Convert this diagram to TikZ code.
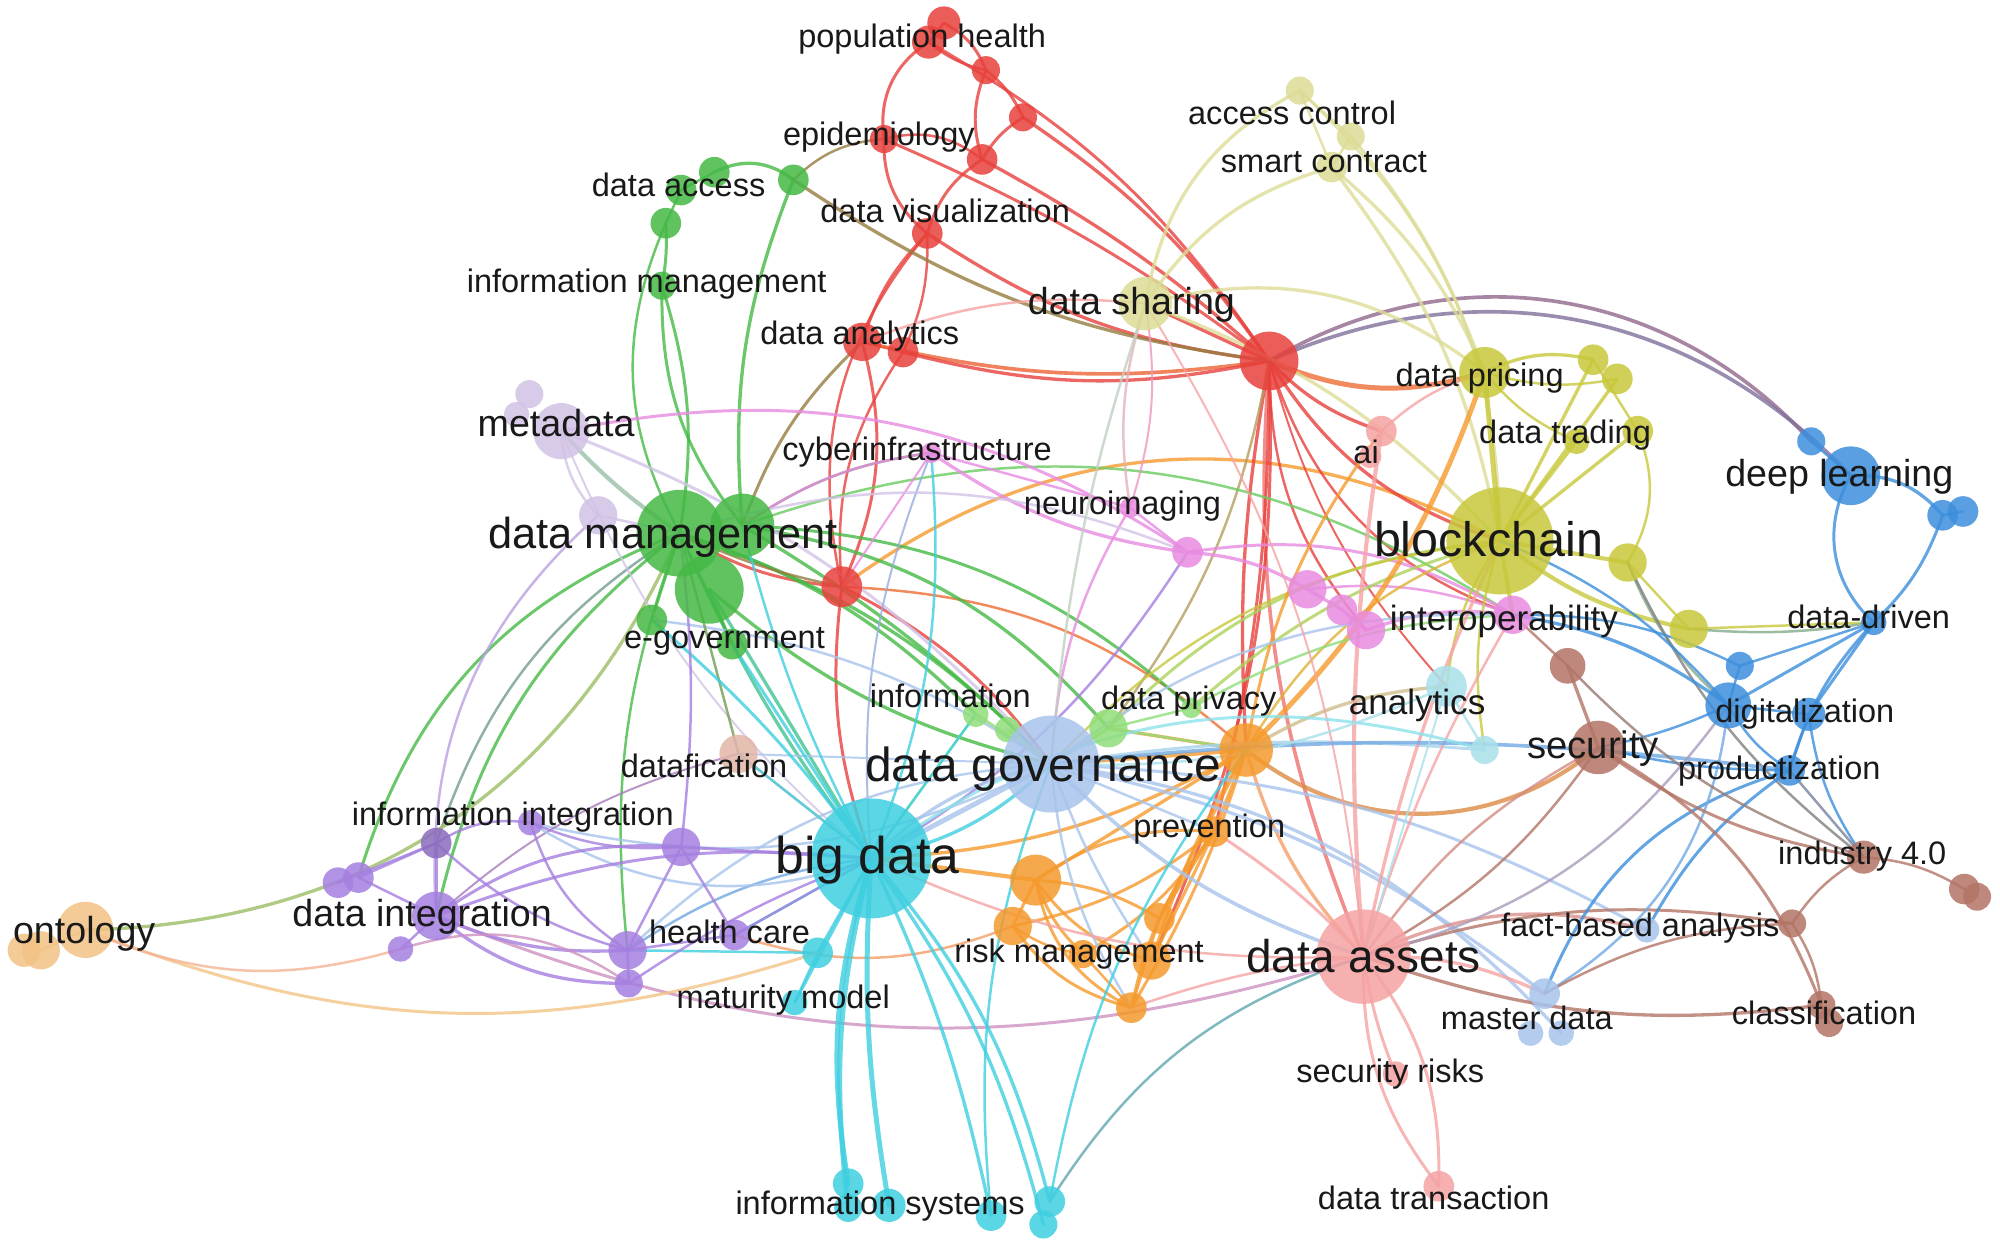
\documentclass[tikz,border=0pt]{standalone}
\usepackage{fontspec}
\setmainfont{Liberation Sans}
\pgfdeclarelayer{bg}
\pgfdeclarelayer{edges}
\pgfsetlayers{bg,edges,main}
\definecolor{cR}{RGB}{232,65,60}
\definecolor{cG}{RGB}{69,185,69}
\definecolor{cY}{RGB}{200,200,60}
\definecolor{cLY}{RGB}{220,220,150}
\definecolor{cB}{RGB}{61,143,220}
\definecolor{cC}{RGB}{63,207,224}
\definecolor{cLB}{RGB}{168,196,236}
\definecolor{cO}{RGB}{245,154,45}
\definecolor{cP}{RGB}{245,163,163}
\definecolor{cPu}{RGB}{165,127,224}
\definecolor{cL}{RGB}{210,195,230}
\definecolor{cM}{RGB}{232,139,224}
\definecolor{cBr}{RGB}{179,117,102}
\definecolor{cLC}{RGB}{169,224,234}
\definecolor{cLG}{RGB}{144,221,122}
\definecolor{cLO}{RGB}{243,195,133}
\definecolor{cDf}{RGB}{227,181,168}
\tikzset{
  kw/.style={circle,inner sep=0pt,draw=none,fill=#1,fill opacity=0.85},
  lab/.style={font=\fontsize{#1pt}{#1pt}\selectfont,text=black!90,inner sep=0pt,
    text height=0.74*#1pt,text depth=0.16*#1pt,anchor=center},
  edge/.style={opacity=0.8,line cap=round}
}
\newcommand\kwn[5]{\node[kw=#2,minimum size=2*#5pt] (#1) at (#3,#4) {};}
\begin{document}
\begin{tikzpicture}[x=1pt,y=-1pt]
\begin{pgfonlayer}{bg}
\fill[white] (0,0) rectangle (1568,975);
\end{pgfonlayer}
\useasboundingbox (0,0) rectangle (1568,975);
% red
\kwn{ph1}{cR}{740}{18}{13}
\kwn{ph2}{cR}{728}{33}{13}
\kwn{r2}{cR}{773}{55}{11}
\kwn{r3}{cR}{802}{92}{11}
\kwn{epi}{cR}{693}{109}{11}
\kwn{r4}{cR}{770}{125}{12}
\kwn{dvis}{cR}{727}{183}{12}
\kwn{dan1}{cR}{676}{268}{15}
\kwn{dan2}{cR}{708}{276}{12}
\kwn{rhub}{cR}{995}{283}{23}
\kwn{r5}{cR}{660}{460}{16}
% green
\kwn{da1}{cG}{560}{135}{12}
\kwn{da2}{cG}{534}{149}{12}
\kwn{da3}{cG}{522}{175}{12}
\kwn{da4}{cG}{622}{141}{12}
\kwn{im}{cG}{519}{224}{11}
\kwn{dm}{cG}{533}{418}{34}
\kwn{dm2}{cG}{582}{412}{25}
\kwn{dm3}{cG}{556}{462}{27}
\kwn{eg1}{cG}{511}{486}{12}
\kwn{eg2}{cG}{574}{505}{12}
% light green
\kwn{inf1}{cLG}{765}{560}{10}
\kwn{inf2}{cLG}{790}{572}{10}
\kwn{dpv}{cLG}{869}{571}{15}
\kwn{dpv2}{cLG}{934}{555}{8}
% lavender
\kwn{md}{cL}{440}{338}{22}
\kwn{md2}{cL}{415}{309}{11}
\kwn{md3}{cL}{405}{325}{10}
\kwn{lv}{cL}{469}{404}{15}
% magenta
\kwn{cyb}{cM}{730}{355}{8}
\kwn{neu}{cM}{886}{398}{8}
\kwn{m1}{cM}{931}{433}{12}
\kwn{m2}{cM}{1025}{462}{15}
\kwn{m3}{cM}{1052}{478}{12}
\kwn{m4}{cM}{1071}{494}{15}
\kwn{interop}{cM}{1186}{482}{15}
% yellow
\kwn{bc}{cY}{1176}{424}{42}
\kwn{dpr}{cY}{1164}{292}{20}
\kwn{y1}{cY}{1249}{282}{12}
\kwn{y2}{cY}{1268}{297}{12}
\kwn{dtr}{cY}{1236}{346}{10}
\kwn{y3}{cY}{1284}{338}{12}
\kwn{y4}{cY}{1276}{441}{15}
\kwn{y5}{cY}{1324}{493}{15}
\kwn{ac}{cLY}{1019}{71}{11}
\kwn{ac2}{cLY}{1059}{107}{11}
\kwn{sc}{cLY}{1044}{131}{12}
\kwn{ds}{cLY}{898}{238}{21}
\kwn{ai}{cP}{1083}{338}{12}
\kwn{ai2}{cP}{1074}{358}{9}
% blue
\kwn{dl1}{cB}{1420}{346}{11}
\kwn{dl}{cB}{1451}{373}{23}
\kwn{dl3}{cB}{1523}{404}{12}
\kwn{dl4}{cB}{1539}{401}{12}
\kwn{ddr}{cB}{1469}{488}{10}
\kwn{dig}{cB}{1355}{553}{18}
\kwn{dig2}{cB}{1364}{522}{11}
\kwn{dig3}{cB}{1418}{560}{13}
\kwn{prod}{cB}{1403}{604}{12}
% brown
\kwn{sec}{cBr}{1253}{586}{21}
\kwn{sec2}{cBr}{1229}{522}{14}
\kwn{ind}{cBr}{1461}{672}{13}
\kwn{ind2}{cBr}{1540}{697}{12}
\kwn{ind3}{cBr}{1550}{703}{11}
\kwn{fb2}{cBr}{1405}{724}{11}
\kwn{cls}{cBr}{1428}{788}{11}
\kwn{cls2}{cBr}{1434}{802}{11}
\kwn{datf}{cDf}{579}{591}{15}
% light cyan
\kwn{an}{cLC}{1134}{538}{16}
\kwn{an2}{cLC}{1164}{588}{11}
% orange
\kwn{ohub}{cO}{977}{588}{21}
\kwn{prev}{cO}{952}{652}{12}
\kwn{o1}{cO}{812}{690}{20}
\kwn{o2}{cO}{794}{726}{15}
\kwn{o3}{cO}{909}{720}{12}
\kwn{o4}{cO}{903}{753}{15}
\kwn{o5}{cO}{887}{790}{12}
\kwn{o6}{cO}{849}{748}{11}
% light blue
\kwn{dg}{cLB}{824}{599}{38}
\kwn{fba}{cLB}{1291}{729}{10}
\kwn{mdat1}{cLB}{1211}{779}{12}
\kwn{mdat2}{cLB}{1224}{810}{10}
\kwn{mdat3}{cLB}{1200}{810}{10}
% pink
\kwn{da}{cP}{1069}{750}{37}
\kwn{sr}{cP}{1094}{842}{10}
\kwn{dt}{cP}{1128}{930}{12}
% cyan
\kwn{bd}{cC}{683}{673}{47}
\kwn{c1}{cC}{641}{747}{12}
\kwn{mm}{cC}{623}{786}{10}
\kwn{is1}{cC}{665}{928}{12}
\kwn{is2}{cC}{665}{947}{11}
\kwn{is3}{cC}{697}{945}{13}
\kwn{is4}{cC}{777}{953}{12}
\kwn{is5}{cC}{823}{942}{12}
\kwn{is6}{cC}{818}{960}{11}
% purple
\kwn{ii1}{cPu!85!black}{342}{661}{12}
\kwn{ii2}{cPu}{416}{645}{10}
\kwn{p1}{cPu}{534}{664}{15}
\kwn{p2}{cPu}{265}{692}{12}
\kwn{p3}{cPu}{281}{688}{12}
\kwn{di}{cPu}{342}{718}{19}
\kwn{p4}{cPu}{314}{744}{10}
\kwn{hc1}{cPu}{492}{745}{15}
\kwn{hc2}{cPu}{493}{771}{11}
\kwn{hc3}{cPu}{576}{733}{12}
% light orange
\kwn{ont}{cLO}{67}{729}{22}
\kwn{ont2}{cLO}{32}{745}{15}
\kwn{ont3}{cLO}{19}{745}{13}

\begin{pgfonlayer}{edges}
\foreach \a/\b/\bnd/\col/\w in {
ph1/ph2/0/cR/1.5, ph2/epi/25/cR/1.8, ph1/r2/-15/cR/1.8, r2/r3/-10/cR/1.8, ph2/r2/10/cR/1.5,
r2/r4/15/cR/1.8, r3/r4/10/cR/1.8, epi/dvis/20/cR/1.8, epi/r4/-20/cR/1.5, r4/dvis/15/cR/1.8,
ph2/rhub/-10/cR/1.8, r3/rhub/-8/cR/2, r4/rhub/-5/cR/2, dvis/rhub/10/cR/2, epi/rhub/-5/cR/1.8,
dvis/dan1/10/cR/1.8, dvis/r5/20/cR/1.5, dvis/dan2/-10/cR/1.5, dan1/dan2/0/cR/1.5,
dan1/rhub/8/cR!60!cO/2.2, dan2/rhub/10/cR/2, dan1/r5/-15/cR/1.8, dan2/r5/15/cR/1.5,
r5/dm/-10/cR/1.8, r5/bd/10/cR/1.8, r5/dg/-10/cR/1.8, r5/ohub/-15/cR!50!cO/1.5, r5/bc/-25/cO/2,
rhub/ds/0/cR/2, rhub/dpr/15/cR!50!cO/3, rhub/ai/10/cR/2, rhub/bc/15/cR/2,
rhub/dl1/-30/cR!50!cB/2.2, rhub/dl/-27/cR!40!cB/2.2, rhub/da/10/cR!50!cP/2.2, rhub/ohub/5/cR/2,
rhub/prev/-5/cR/1.8, rhub/o4/-10/cR/1.8, rhub/m4/15/cR/1.5, rhub/interop/20/cR/1.5,
rhub/dpv/-10/cR!40!cLG/1.5, rhub/an/10/cR/1.2,
da2/da1/0/cG/1.5, da1/da4/-25/cG/2, da2/da3/0/cG/1.5, da3/im/-5/cG/1.8, im/dm/-10/cG/1.8,
im/dm2/15/cG/1.8, da3/dm/20/cG/1.5, da4/dm2/10/cG/2, da4/rhub/10/cG!50!cR/2, da4/epi/-15/cG!50!cR/1.5,
dm/bd/5/cG!50!cC/2, dm/dg/-10/cG/2, dm2/dg/-5/cG/2, dm3/dg/10/cG/2, dm/inf1/-10/cG/2,
dm2/dpv/-15/cG/2, dm2/dpv2/-15/cG/1.8, dm2/interop/-20/cG!50!cLG/1.5, dm/eg1/0/cG/1.5,
dm/eg2/0/cG/1.5, dm3/eg2/0/cG/1.5, dm/di/15/cG/1.8, dm/p3/20/cG/1.8, dm/ii1/15/cG!50!cPu/1.5,
dm/ont/-25/cG!50!cLO/2, dm/hc1/10/cG/1.5, dm3/bd/0/cG!50!cC/2, dm/r5/5/cG!50!cR/1.5,
dm2/cyb/-10/cG!40!gray/1.5, dm2/dan1/-10/cG!50!cR/1.8,
md/dm/5/cG!40!cL/2.5, md/lv/15/cL/1.5, md/dg/-10/cL/1.8, md/m1/-17/cM/1.8, md/bd/10/cL/1.2,
lv/dm/0/cL/1.5, lv/di/20/cL!50!cPu/1.5,
cyb/m1/10/cM/2, cyb/neu/0/cM/1.5, cyb/dm2/10/cM/1.5, cyb/bd/10/cM!50!cC/1.2, cyb/r5/0/cM/1.2,
neu/m1/0/cM/1.5, neu/dg/10/cM/1.5, neu/ds/10/cM!50!cP/1.2, m1/m2/-10/cM/2, m2/m3/0/cM/2,
m3/m4/0/cM/2, m4/interop/-10/cM/2, m1/interop/-15/cM/1.8, m1/bd/-10/cPu/1.5, m1/dm/15/cL/1.5,
m2/interop/-10/cM/1.5,
ds/ac/-20/cLY/2, ds/sc/-15/cLY/2, ds/dpr/-20/cLY/2, ds/bc/-10/cLY/2, ds/dan1/10/cP/1.5,
ds/neu/10/cLY!50!cM/1.5, ds/dg/5/cLY!50!cLB/1.5, ac/ac2/0/cLY/1.5, ac/sc/0/cLY/1.5,
ac2/sc/0/cLY/1.5, sc/dpr/-10/cLY/2, sc/bc/-10/cLY/2, ac2/bc/-15/cLY/2, ac/dpr/-10/cLY/1.5,
dpr/bc/0/cY/3, dpr/y1/-15/cY/2, dpr/y2/10/cY/1.5, dpr/dtr/10/cY/1.5, dpr/ai/10/cP/1.5,
bc/y1/0/cY/2, bc/y2/0/cY/2, bc/dtr/0/cY/2, bc/y3/0/cY/2, y1/y3/0/cY/1.5, y3/y4/-20/cY/1.5,
bc/y4/0/cY/2.5, bc/y5/10/cY/2.5, y4/y5/0/cY/1.5, bc/interop/0/cY/2.5, bc/dpv/15/cY!50!cLG/1.8,
bc/dpv2/10/cY!50!cLG/1.8, bc/an/10/cY/1.5, bc/dg/15/cY/1.5, bc/ohub/15/cY!50!cO/1.5,
bc/an2/10/cY/1.5, y4/dig/10/cY!50!cB/1.5, y4/ind/10/gray/1.5, y5/ddr/0/cY/1.5,
ohub/dpr/10/cO/3, ohub/dg/0/cO/2.5, ohub/bd/-10/cO/2, ohub/sec/30/cO!60!cBr/2.5, ohub/prev/0/cO/2,
ohub/o3/0/cO/1.8, ohub/o4/5/cO/1.8, ohub/o5/-5/cO/1.8, ohub/o1/0/cO/2, ohub/ai/-10/cO/1.8,
ohub/an/-10/cO!50!cLC/2, ohub/da/10/cO!50!cP/2, o1/bd/0/cO/2.5, o1/o2/0/cO/1.8, o1/o4/15/cO/1.8,
o1/o5/20/cO/1.8, o1/prev/-15/cO/1.8, o1/o3/-10/cO/1.8, o1/o6/10/cO/1.8, prev/o2/-10/cO/1.8,
prev/o3/0/cO/1.8, prev/o4/0/cO/1.8, prev/o5/10/cO/1.8, prev/o6/-10/cO/1.8, o2/o5/15/cO/1.8,
o6/o5/0/cO/1.5, o2/o6/10/cO/1.5, o3/o5/0/cO/1.5, o2/hc3/-15/cO!50!cP/1.5, ohub/dpv/0/cO/2,
inf1/dg/0/cLG/2, inf2/dg/0/cLG/2, dpv/dg/0/cLG/2, dpv/dpv2/0/cLG/1.5, dpv/ohub/0/cLG/1.5,
dpv2/interop/-10/cLG/1.5, inf1/bd/0/cLG/1.5,
dg/bd/0/cLB/3, dg/bd/12/cLB/2, dg/bd/-12/cC/2, dg/da/10/cLB/2.2, dg/mdat1/-10/cLB/2, dg/mdat2/-15/cLB/2, dg/fba/-10/cLB/1.8,
dg/eg1/10/cLB/1.5, dg/an2/-5/cLB!50!cLC/1.8, dg/prev/0/cLB/1.5, dg/o4/5/cLB/1.5, dg/o5/10/cLB/1.5,
dg/ii2/-15/cLB/1.5, dg/hc1/15/cLB/1.5, dg/interop/-15/cLB/1.5, dg/datf/0/cLB/1.2,
da/sr/5/cP/1.8, da/dt/15/cP/1.8, da/dt/-15/cP/1.8, da/ai/-5/cP/2.5, da/bc/-5/cP/2,
da/interop/-5/cP/1.5, da/prev/5/cP/1.8, da/mdat1/-10/cP/2, da/fba/-15/cP!60!cBr/2,
da/cls/10/cBr/2, da/fb2/-10/cBr/1.8, da/o5/5/cP/1.5, da/bd/-10/cP/1.5, di/da/15/cP!50!cPu/1.8,
da/ds/10/cP/1.2, da/sec/-10/cP!50!cBr/1.5,
dl/dl1/0/cB/1.5, dl/dl3/-20/cB/2, dl3/dl4/0/cB/1.5, dl/ddr/30/cB/1.8, dl3/ddr/-10/cB/1.8,
ddr/dig/0/cB/1.8, ddr/dig3/0/cB/1.8, ddr/prod/10/cB/1.8, ddr/dig2/0/cB/1.5, ddr/y5/-5/cB!50!cY/1.5,
dig/dig2/0/cB/1.5, dig/dig3/0/cB/1.5, dig/prod/10/cB/1.5, dig3/prod/0/cB/1.5, dig/interop/10/cB/2,
dig2/interop/10/cB/1.5, dig/bc/10/cB/1.5, prod/dg/5/cB!50!cLB/2.2, prod/fba/10/cB/1.8,
prod/mdat1/20/cB/1.8, dig/mdat1/-20/cB!50!cLB/1.5, dig/da/-15/cB!40!cP/1.5, prod/ind/0/cB!50!cBr/1.5,
dig3/ind/10/cB/1.5, prod/sec/-5/cB/1.5, dig/sec/-5/cB/1.5,
sec/sec2/0/cBr/2, sec/ind/10/cBr/1.8, sec/cls/-15/cBr/1.8, sec2/ind/10/cBr!50!gray/1.5,
ind/ind2/-10/cBr/1.5, ind2/ind3/0/cBr/1.5, ind/fb2/10/cBr/1.5, fb2/cls/-10/cBr/1.5,
fb2/mdat1/10/cBr/1.5, sec/da/-10/cBr/1.5, sec2/interop/0/cBr/1.5, cls/cls2/0/cBr/1.5,
datf/bd/0/cDf/1.5, datf/dm/0/cBr!40!cG/1.5, datf/di/10/cBr!30!cPu/1.2,
an/an2/0/cLC/1.5, bd/an2/-20/cC!60!white/1.8, an/dg/-10/cLC/1.5, an/da/0/cLC/1.2,
bd/is1/10/cC/3, bd/is2/8/cC/3, bd/is3/5/cC/3, bd/is4/-5/cC/2, bd/is5/-10/cC/2, bd/is6/-8/cC/2,
bd/mm/0/cC/1.8, bd/c1/0/cC/1.8, bd/eg1/5/cC/1.8, bd/eg2/0/cC/1.8, bd/dm2/-5/cC/1.5,
bd/datf/0/cC/1.5, bd/hc1/10/cC!50!cPu/1.5, bd/hc3/0/cC/1.5, bd/ii2/-20/cLB/1.5, bd/inf1/0/cC/1.5,
bd/cyb/10/cC/1.5, is4/dg/-10/cC/1.5, is5/da/-15/cC!50!gray/1.5, is5/ohub/-10/cC/1.5,
mm/c1/0/cC/1.5, c1/hc1/0/cC/1.5,
ii1/p2/0/cPu/1.5, ii1/p3/0/cPu/1.5, ii1/di/0/cPu/2, ii1/ii2/-15/cPu/1.5, ii1/hc1/10/cPu/1.5,
ii2/hc1/15/cPu/1.5, ii2/p1/10/cPu/1.5, di/p1/-15/cPu/1.8, di/hc1/10/cPu/2, di/hc2/15/cPu/2,
di/p4/0/cPu/1.5, di/bd/-10/cPu/1.8, di/p3/0/cPu/1.5, p1/bd/0/cPu/1.8, p1/hc1/0/cPu/1.5,
p1/hc3/0/cPu/1.5, p1/dm/5/cPu/1.5, hc1/hc3/0/cPu/1.5, hc1/hc2/0/cPu/1.5, hc2/bd/-5/cPu/1.5,
hc3/bd/0/cPu/1.5, p4/hc2/-20/cPu!50!cP/1.5, ont/c1/15/cLO/1.8, ont/p4/15/cLO!50!cP/1.5,
ont/ont2/0/cLO/1.5, ont2/ont3/0/cLO/1.5
}{
  \pgfmathsetmacro\bb{1.3*\bnd}
  \pgfmathsetmacro\ww{1.3*\w}
  \draw[edge,draw=\col,line width=\ww pt] (\a.center) to[bend right=\bb] (\b.center);
}
\end{pgfonlayer}

% labels
\node[lab=25.5] (t1) at (723,30) {population health};
\node[lab=25.5] (t2) at (689,107) {epidemiology};
\node[lab=25.5] (t3) at (532,147) {data access};
\node[lab=25.5] (t4) at (741,167) {data visualization};
\node[lab=25.5] (t5) at (507,222) {information management};
\node[lab=29.5] (t6) at (887,238) {data sharing};
\node[lab=25.5] (t7) at (674,263) {data analytics};
\node[lab=25.5] (t8) at (1013,90) {access control};
\node[lab=25.5] (t9) at (1038,128) {smart contract};
\node[lab=25.5] (t10) at (1160,296) {data pricing};
\node[lab=25.5] (t11) at (1227,340) {data trading};
\node[lab=29.5] (t12) at (436,334) {metadata};
\node[lab=25.5] (t13) at (719,354) {cyberinfrastructure};
\node[lab=25.5] (t14) at (1071,356) {ai};
\node[lab=29.5] (t15) at (1442,373) {deep learning};
\node[lab=25.5] (t16) at (880,396) {neuroimaging};
\node[lab=34] (t17) at (520,420) {data management};
\node[lab=38] (t18) at (1167,425) {blockchain};
\node[lab=27.5] (t19) at (1179,486) {interoperability};
\node[lab=25.5] (t20) at (1465,485) {data-driven};
\node[lab=25.5] (t21) at (568,501) {e-government};
\node[lab=25.5] (t22) at (745,547) {information};
\node[lab=25.5] (t23) at (932,549) {data privacy};
\node[lab=27.5] (t24) at (1111,552) {analytics};
\node[lab=25.5] (t25) at (1415,559) {digitalization};
\node[lab=30] (t26) at (1249,586) {security};
\node[lab=37.5] (t27) at (818,602) {data governance};
\node[lab=25.5] (t28) at (552,602) {datafication};
\node[lab=25.5] (t29) at (1395,604) {productization};
\node[lab=25.5] (t30) at (402,640) {information integration};
\node[lab=25.5] (t31) at (948,649) {prevention};
\node[lab=40.5] (t32) at (680,673) {big data};
\node[lab=25.5] (t33) at (1460,670) {industry 4.0};
\node[lab=29.5] (t34) at (331,718) {data integration};
\node[lab=29.5] (t35) at (66,731) {ontology};
\node[lab=25.5] (t36) at (1286,727) {fact-based analysis};
\node[lab=25.5] (t37) at (572,732) {health care};
\node[lab=25.5] (t38) at (846,747) {risk management};
\node[lab=36] (t39) at (1069,752) {data assets};
\node[lab=25.5] (t40) at (614,783) {maturity model};
\node[lab=25.5] (t41) at (1430,796) {classification};
\node[lab=25.5] (t42) at (1197,800) {master data};
\node[lab=25.5] (t43) at (1090,841) {security risks};
\node[lab=25.5] (t44) at (690,945) {information systems};
\node[lab=25.5] (t45) at (1124,941) {data transaction};
\end{tikzpicture}
\end{document}
